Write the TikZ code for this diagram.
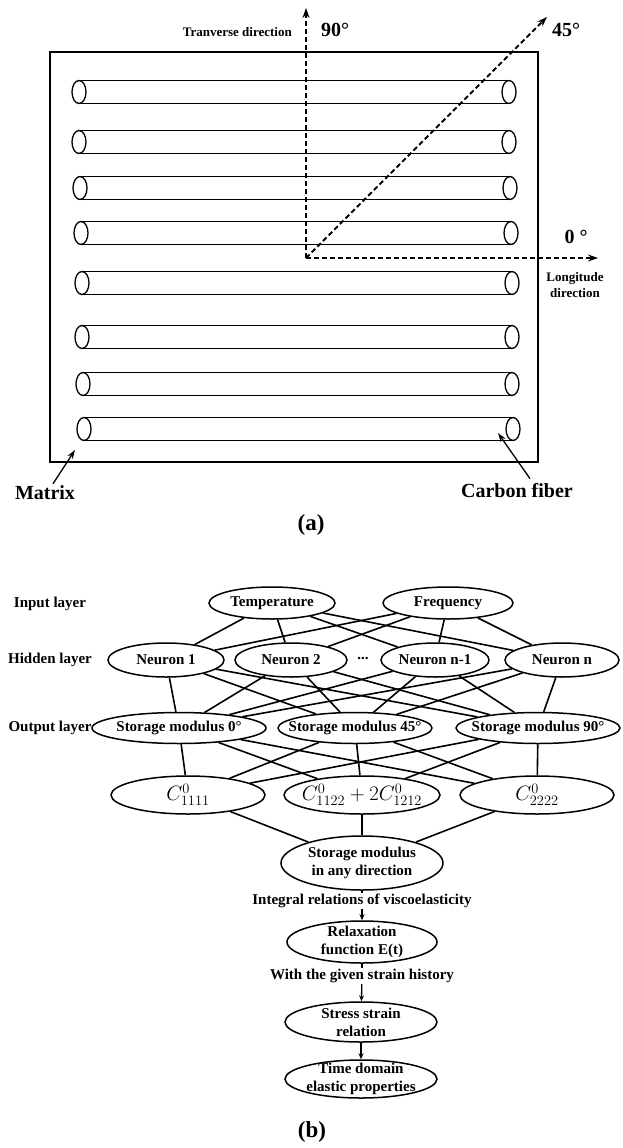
\documentclass[tikz,border=0pt]{standalone}
\usepackage{fontspec}
\setmainfont{Liberation Serif}
\usetikzlibrary{shapes.geometric,arrows.meta}
\newcommand\ftsmall{\fontsize{13}{16}\selectfont\bfseries}
\newcommand\ftbig{\fontsize{20}{22}\selectfont\bfseries}
\newcommand\ftnet{\fontsize{15}{18}\selectfont\bfseries}
\newcommand\ftcap{\fontsize{23}{25}\selectfont\bfseries}
\newcommand\ftmath{\fontsize{21}{23}\selectfont}
\begin{document}
\begin{tikzpicture}[x=1pt,y=-1pt,
  fib/.style={line width=1.3pt},
  frame/.style={line width=1.3pt},
  darr/.style={line width=1.8pt, dash pattern=on 5pt off 3pt, -{Stealth[length=10pt,width=7pt]}},
  sarr/.style={line width=1.3pt, -{Stealth[length=9pt,width=6pt]}},
  ell/.style={draw, ellipse, line width=1.5pt, inner xsep=-30pt, inner ysep=-6pt, font=\ftnet, align=center},
  conn/.style={line width=1.6pt},
  carr/.style={line width=1.3pt, -{Stealth[length=6pt,width=5pt]}},
  lbl/.style={inner sep=1pt, font=\ftnet, align=center}
]
\useasboundingbox (0,0) rectangle (623,1148);

% ---------------- (a) ----------------
\draw[frame] (50,52) rectangle (538,462);
\foreach \xl/\xr/\yy in {79/509/92, 79/509/142, 80/510/188, 81/511/233, 82/512/283, 82/512/337, 83/512/384, 84/513/429} {
  \draw[fib] (\xl,\yy) ellipse [x radius=7pt, y radius=11.5pt];
  \draw[fib] (\xl,\yy-11.5) -- (\xr,\yy-11.5);
  \draw[fib] (\xl,\yy+11.5) -- (\xr,\yy+11.5);
  \draw[fib] (\xr,\yy) ellipse [x radius=7pt, y radius=11.5pt];
}
\coordinate (O) at (306,258);
\coordinate (T90) at (306,8);
\coordinate (T45) at (547,17);
\coordinate (T0) at (598,258);
\draw[darr] (O) -- (T90);
\draw[darr] (O) -- (T45);
\draw[darr] (O) -- (T0);

\node[font=\ftsmall, anchor=east, inner sep=0pt] (trans) at (292,32) {Tranverse direction};
\node[font=\ftbig, anchor=west, inner sep=0pt] (l90) at (321,30) {90°};
\node[font=\ftbig, anchor=west, inner sep=0pt] (l45) at (552,30) {45°};
\node[font=\ftbig, inner sep=0pt] (l0) at (576,237) {0 °};
\node[font=\ftsmall, align=center, inner sep=0pt] (long) at (575,285) {Longitude\\direction};

\node[font=\ftbig, inner sep=1pt] (mat) at (45,493) {Matrix};
\node[font=\ftbig, inner sep=1pt] (cf) at (517,491) {Carbon fiber};
\coordinate (matTip) at (75,450);
\coordinate (cfTip) at (498,433);
\draw[sarr] ([xshift=8pt,yshift=1pt]mat.north) -- (matTip);
\draw[sarr] ([xshift=13pt,yshift=4pt]cf.north) -- (cfTip);

\node[font=\ftcap] (capa) at (311,525) {(a)};

% ---------------- (b) ----------------
\node[lbl] (inl) at (50,604) {Input layer};
\node[lbl] (hidl) at (50,660) {Hidden layer};
\node[lbl] (outl) at (50,728) {Output layer};

\node[ell, minimum width=126pt, minimum height=32pt] (temp) at (272,603) {Temperature};
\node[ell, minimum width=130pt, minimum height=32pt] (freq) at (448,603) {Frequency};

\node[ell, minimum width=116pt, minimum height=34pt] (n1) at (166,660) {Neuron 1};
\node[ell, minimum width=112pt, minimum height=34pt] (n2) at (291,660) {Neuron 2};
\node[lbl] (dots) at (363,660) {\raisebox{3pt}{\textbf{...}}};
\node[ell, minimum width=108pt, minimum height=34pt] (nm) at (435,660) {Neuron n-1};
\node[ell, minimum width=114pt, minimum height=34pt] (nn) at (562,660) {Neuron n};

\node[ell, minimum width=174pt, minimum height=31pt] (s0) at (179,728) {Storage modulus 0°};
\node[ell, minimum width=154pt, minimum height=31pt] (s45) at (355,728) {Storage modulus 45°};
\node[ell, minimum width=164pt, minimum height=31pt] (s90) at (538,728) {Storage modulus 90°};

\node[ell, minimum width=154pt, minimum height=38pt, font=\ftmath] (c1) at (188,795) {$C^{0}_{1111}$};
\node[ell, minimum width=156pt, minimum height=38pt, font=\ftmath, inner xsep=-40pt] (c2) at (362,795) {$C^{0}_{1122}+2C^{0}_{1212}$};
\node[ell, minimum width=154pt, minimum height=38pt, font=\ftmath] (c3) at (537,795) {$C^{0}_{2222}$};

\foreach \a in {temp,freq} \foreach \b in {n1,n2,nm,nn} \draw[conn] (\a) -- (\b);
\foreach \a in {n1,n2,nm,nn} \foreach \b in {s0,s45,s90} \draw[conn] (\a) -- (\b);
\foreach \a in {s0,s45,s90} \foreach \b in {c1,c2,c3} \draw[conn] (\a) -- (\b);

\node[ell, minimum width=162pt, minimum height=54pt] (any) at (362,863) {Storage modulus\\in any direction};
\foreach \a in {c1,c2,c3} \draw[conn] (\a) -- (any);

\node[lbl] (intg) at (362,901) {Integral relations of viscoelasticity};
\node[ell, minimum width=150pt, minimum height=42pt] (relax) at (362,942) {Relaxation\\function E(t)};
\node[lbl] (strain) at (362,976) {With the given strain history};
\node[ell, minimum width=152pt, minimum height=40pt] (ss) at (361,1022) {Stress strain\\relation};
\node[ell, minimum width=152pt, minimum height=38pt] (td) at (361,1079) {Time domain\\elastic properties};

\draw[conn, line width=1.3pt] (any) -- (intg);
\draw[carr] (intg) -- (relax);
\draw[conn, line width=1.3pt] (relax) -- (strain);
\draw[carr] (strain) -- (ss);
\draw[carr] (ss) -- (td);

\node[font=\ftcap] (capb) at (312,1132) {(b)};
\end{tikzpicture}
\end{document}
